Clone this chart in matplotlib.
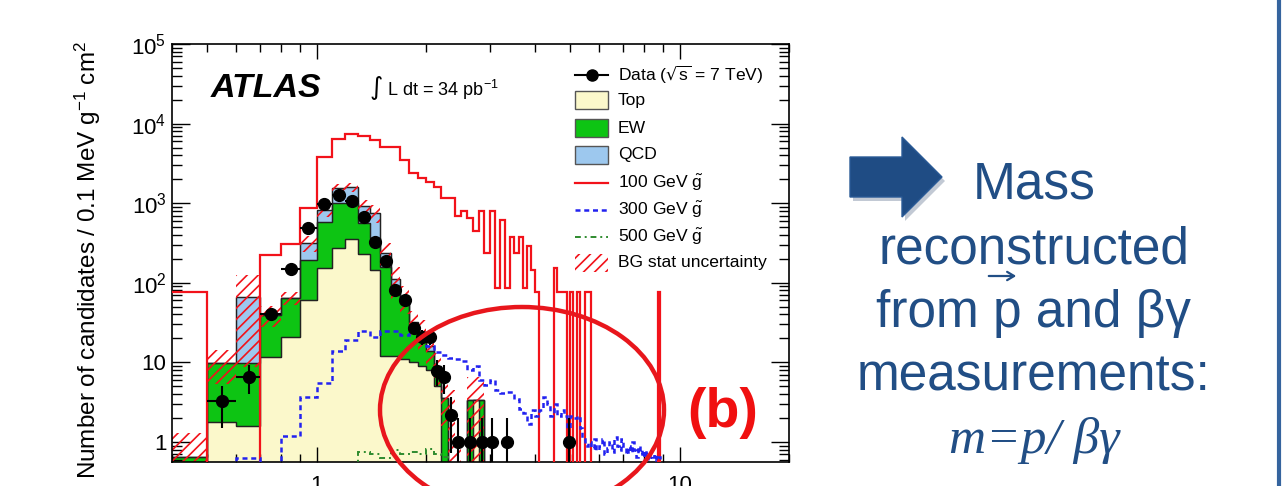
import numpy as np
import matplotlib.pyplot as plt
from matplotlib.patches import Ellipse, Polygon, Rectangle, FancyArrowPatch
from matplotlib.lines import Line2D

plt.rcParams['font.family'] = ['Liberation Sans', 'DejaVu Sans']
plt.rcParams['mathtext.default'] = 'regular'
plt.rcParams['hatch.linewidth'] = 1.2

# bins of 0.1 from 0.4 to 9.0
edges = np.round(np.arange(4, 91) / 10, 1)
centers = (edges[:-1] + edges[1:]) / 2

# stacked backgrounds (per component)
top_bg = [0, 1.8, 1.6, 11.7, 21, 60, 155, 275, 350, 230,
          146, 12, 12, 11, 10, 9, 8, 5, 0, 0,
          0, 0, 0, 3.4, 0, 0] + [0] * 60
ew_bg = [0.65, 8, 8.2, 28, 44, 135, 425, 735, 660, 340,
         224, 148, 68, 44, 15, 11, 6, 3, 3.6, 0,
         0, 0, 3.4, 0, 3.4, 0] + [0] * 60
qcd_bg = [0, 0, 57, 0, 0, 121, 250, 550, 590, 340,
          390, 80, 30, 10, 7, 4, 2, 1, 0, 0] + [0] * 66
bg_err = [0.65, 4.5, 58, 12, 12, 75, 150, 200, 200, 180,
          200, 80, 50, 25, 12, 10, 7, 4, 2, 4.5,
          1.2, 0, 3.2, 3.2, 3.2, 0] + [0] * 60

# data (0 = empty bin)
data = [0, 3.3, 6.6, 41, 150, 490, 985, 1280, 1050, 680,
        330, 190, 80, 60, 27, 21, 21, 7.8, 6.6, 2.2,
        1, 0, 1, 0, 1, 0, 1, 0, 0, 1,
        0, 0, 0, 0, 0, 0, 0, 0, 0, 0,
        0, 0, 0, 0, 0, 1] + [0] * 40

# signal samples
sig100 = [77, 0, 0, 224, 310, 880, 3830, 6460, 7470, 6900,
          6300, 5100, 5100, 3500, 2400, 2100, 1850, 1600, 1170, 1170,
          700, 800, 650, 450, 800, 240, 800, 85, 620, 85,
          380, 240, 380, 85, 290, 145, 77, 0, 0, 0,
          0, 155, 77, 77, 77, 0, 77, 0, 77, 0,
          0, 77, 77] + [0] * 30 + [77, 0, 0]
sig300 = [0, 0, 0.62, 0, 1.2, 3.7, 5.5, 14, 19, 25,
          21, 25, 25, 22, 24, 20, 16, 13.5, 12.5, 11.5,
          11, 10.5, 8, 9, 6, 5.2, 6, 4.5, 4.1, 4.3,
          4.3, 3.5, 2.6, 2.3, 1.7, 2.5, 2.1, 2.5, 3.7, 3.0,
          2.1, 3.0, 2.1, 2.5, 2.1, 1.5, 2.1, 2.0, 2.1, 1.5,
          1.1, 0.9, 1.0, 0.85, 1.1, 0.8, 0.9, 1.1, 0.7, 0.85,
          1.0, 0.75, 1.15, 0.9, 0.8, 1.1, 0.85, 0.7, 0.9, 0.75,
          1.0, 0.8, 0.65, 0.9, 0.7, 0.8, 0.65, 0.75, 0.6, 0.7,
          0.65, 0.7, 0.6, 0.65, 0.6, 0]
sig500 = [0] * 9 + [0.75, 0.7, 0.62, 0.8, 0.7, 0.75, 0.7, 0.82, 0.7, 0.65] + [0] * 67

leg_labels = [r'Data ($\sqrt{s}$ = 7 TeV)', 'Top', 'EW', 'QCD',
              r'100 GeV $\tilde{g}$', r'300 GeV $\tilde{g}$', r'500 GeV $\tilde{g}$',
              'BG stat uncertainty']

c_top = '#FBF8CB'
c_ew = '#0DC413'
c_qcd = '#9DC8EE'
c_red = '#F2121A'
c_blue = '#2222F0'
c_green = '#2E8B2E'
c_slide = '#214E85'
dash300 = (0, (2, 1.5))
dash500 = (0, (3, 2, 1, 2))

fig = plt.figure(figsize=(12.85, 4.86), dpi=100)
ax = fig.add_axes([172 / 1285, 1 - 462 / 486, 617 / 1285, 418 / 486])

s1 = np.array(top_bg)
s2 = s1 + np.array(ew_bg)
s3 = s2 + np.array(qcd_bg)
for vals, col in [(s3, c_qcd), (s2, c_ew), (s1, c_top)]:
    ax.stairs(vals, edges, baseline=1e-3, fill=True, facecolor=col,
              edgecolor='#222222', linewidth=0.9, zorder=1)
    ax.stairs(vals, edges, baseline=1e-3, color='#222222', linewidth=0.9, zorder=1.1)

err = np.array(bg_err)
lo = np.clip(s3 - err, 1e-3, None)
hi = s3 + err
ax.fill_between(edges, np.append(lo, lo[-1]), np.append(hi, hi[-1]), step='post',
                facecolor='none', edgecolor=c_red, hatch='///', linewidth=0, zorder=2)

ax.stairs(sig100, edges, baseline=None, color=c_red, linewidth=1.6, zorder=3)
ax.stairs(sig300, edges, baseline=None, color=c_blue, linewidth=1.8,
          linestyle=dash300, zorder=3)
ax.stairs(sig500, edges, baseline=None, color=c_green, linewidth=1.4,
          linestyle=dash500, zorder=3)

d = np.array(data, dtype=float)
m = d > 0
ax.errorbar(centers[m], d[m], yerr=np.sqrt(d[m]), xerr=0.05, fmt='o', color='black',
            ms=8.5, elinewidth=1.5, capsize=0, zorder=5)

ax.set_xscale('log')
ax.set_yscale('log')
ax.set_xlim(0.4, 20)
ax.set_ylim(0.56, 1e5)
ax.set_xticks([1, 10])
ax.set_xticklabels(['1', '10'])
ax.set_xticks([0.4, 0.5, 0.6, 0.7, 0.8, 0.9, 2, 3, 4, 5, 6, 7, 8, 9, 20], minor=True)
ax.set_xticklabels([], minor=True)
ax.set_yticks([1, 10, 100, 1e3, 1e4, 1e5])
ax.set_yticklabels(['1', '10', '$10^{2}$', '$10^{3}$', '$10^{4}$', '$10^{5}$'])
for sp in ax.spines.values():
    sp.set_linewidth(1.2)
ax.tick_params(which='both', direction='in', top=True, right=True, labelsize=16, width=1)
ax.tick_params(axis='y', which='major', length=13, pad=4)
ax.tick_params(axis='y', which='minor', length=7)
ax.tick_params(axis='x', which='major', length=11, pad=9)
ax.tick_params(axis='x', which='minor', length=6)

fig.text(88 / 1285, 1 - 260 / 486, 'Number of candidates / 0.1 MeV g$^{-1}$ cm$^{2}$',
         rotation=90, ha='center', va='center', fontsize=17.5)

ax.text(0.062, 0.893, 'ATLAS', transform=ax.transAxes, fontsize=24.5,
        fontweight='bold', fontstyle='italic', va='center')
ax.text(0.32, 0.895, r'$\int$ L dt = 34 pb$^{-1}$', transform=ax.transAxes,
        fontsize=13, va='center')

# legend drawn entry by entry (ROOT style)
leg_y = [(462 - y) / 418 for y in [75, 100, 128, 155, 183, 210, 237, 263]]
hx0, hx1, tx = 0.653, 0.707, 0.723
bh = 18 / 418
ax.plot([hx0, hx1], [leg_y[0]] * 2, color='black', lw=1.5, transform=ax.transAxes)
ax.plot([(hx0 + hx1) / 2], [leg_y[0]], 'o', color='black', ms=8, transform=ax.transAxes)
for yy, col in zip(leg_y[1:4], [c_top, c_ew, c_qcd]):
    ax.add_patch(Rectangle((hx0, yy - bh / 2), hx1 - hx0, bh, transform=ax.transAxes,
                           facecolor=col, edgecolor='#555555', lw=1))
ax.plot([hx0, hx1], [leg_y[4]] * 2, color=c_red, lw=1.6, transform=ax.transAxes)
ax.plot([hx0, hx1], [leg_y[5]] * 2, color=c_blue, lw=1.8, ls=dash300, transform=ax.transAxes)
ax.plot([hx0, hx1], [leg_y[6]] * 2, color=c_green, lw=1.4, ls=dash500, transform=ax.transAxes)
ax.add_patch(Rectangle((hx0, leg_y[7] - bh / 2), hx1 - hx0, bh, transform=ax.transAxes,
                       facecolor='none', edgecolor=c_red, hatch='///', lw=0))
for yy, lab in zip(leg_y, leg_labels):
    ax.text(tx, yy, lab, transform=ax.transAxes, fontsize=12.6, va='center')

# slide decorations
fig.add_artist(Ellipse((522 / 1285, 1 - 410 / 486), 284 / 1285, 206 / 486,
                       transform=fig.transFigure, fill=False, edgecolor='#E8161C',
                       linewidth=3.2, zorder=10))
fig.text(723 / 1285, 1 - 413 / 486, '(b)', color='#F01010', fontsize=40,
         fontweight='bold', ha='center', va='center')

arrow_px = [(850, 157), (902, 157), (902, 137), (942, 177), (902, 217), (902, 197), (850, 197)]
shadow = Polygon([((x + 3) / 1285, 1 - (y + 4) / 486) for x, y in arrow_px],
                 transform=fig.transFigure, facecolor='#9AA6B8', edgecolor='none', alpha=0.6)
arrow = Polygon([(x / 1285, 1 - y / 486) for x, y in arrow_px],
                transform=fig.transFigure, facecolor='#1F4C84', edgecolor='#2A5A96', lw=1)
fig.add_artist(shadow)
fig.add_artist(arrow)

lines_txt = ['Mass', 'reconstructed', 'from p and βγ', 'measurements:']
baselines = [198, 263, 327, 390]
for t, yb in zip(lines_txt, baselines):
    fig.text(1034 / 1285, 1 - yb / 486, t, color=c_slide, fontsize=37,
             ha='center', va='baseline')
# vector arrow over the p
fig.add_artist(FancyArrowPatch((986 / 1285, 1 - 276 / 486), (1019 / 1285, 1 - 276 / 486),
                               transform=fig.transFigure, arrowstyle='->,head_length=5,head_width=3',
                               color=c_slide, lw=1.6))
fig.text(1034 / 1285, 1 - 453 / 486, 'm=p/ βγ', color=c_slide, fontsize=37,
         ha='center', va='baseline', family=['Liberation Serif'], fontstyle='italic')

fig.add_artist(Line2D([1279 / 1285, 1279 / 1285], [0, 1], transform=fig.transFigure,
                      color='#35649E', linewidth=3))

plt.savefig('out.png', dpi=100)
